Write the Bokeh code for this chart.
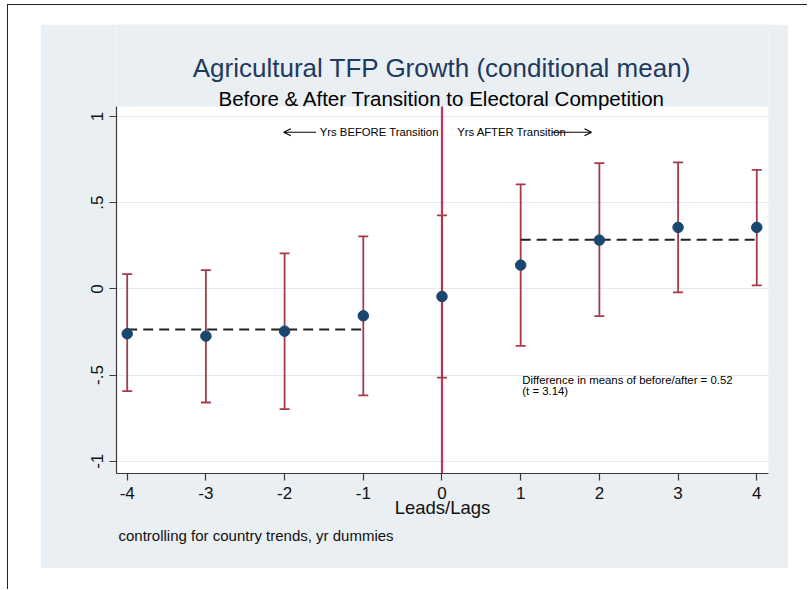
from bokeh.plotting import figure
from bokeh.models import Range1d, FixedTicker, Label, Arrow, OpenHead, BoxAnnotation, Title
from bokeh.layouts import column
from bokeh.embed import file_html
from bokeh.resources import INLINE

# ---- data ----
lags = [-4, -3, -2, -1, 0, 1, 2, 3, 4]
coef = [-0.260, -0.274, -0.245, -0.156, -0.044, 0.138, 0.283, 0.357, 0.357]
ci_hi = [0.086, 0.109, 0.206, 0.305, 0.427, 0.607, 0.730, 0.734, 0.690]
ci_lo = [-0.593, -0.659, -0.698, -0.618, -0.515, -0.330, -0.158, -0.020, 0.020]

before_x = [-4, -1]
before_mean = -0.235
after_x = [1, 4]
after_mean = 0.285

x_ticks = [-4, -3, -2, -1, 0, 1, 2, 3, 4]
x_tick_labels = ["-4", "-3", "-2", "-1", "0", "1", "2", "3", "4"]
y_ticks = [-1.0, -0.5, 0.0, 0.5, 1.0]
y_tick_labels = ["-1", "-.5", "0", ".5", "1"]

title_text = "Agricultural TFP Growth (conditional mean)"
subtitle_text = "Before & After Transition to Electoral Competition"
x_title = "Leads/Lags"
note_text = "controlling for country trends, yr dummies"
before_text = "Yrs BEFORE Transition"
after_text = "Yrs AFTER Transition"
diff_text = "Difference in means of before/after = 0.52"
t_text = "(t = 3.14)"

FONT = "Liberation Sans"
NAVY = "#1A476F"
BAR = "#A63A4A"
RED = "#D42E5B"
PANEL = "#E9EFF2"

# plot region (white area) and frame extents
X_LO, X_HI = -4.136, 4.149
Y_LO, Y_PLOT_TOP, Y_FRAME_TOP = -1.071, 1.058, 1.534

p = figure(width=748, height=544,
           x_range=Range1d(X_LO, X_HI), y_range=Range1d(Y_LO, Y_FRAME_TOP),
           output_backend="svg", toolbar_location=None, title=None,
           min_border_left=76, min_border_right=20,
           min_border_top=0, min_border_bottom=95)
p.margin = (19, 0, 0, 32)
p.border_fill_color = PANEL
p.background_fill_color = PANEL
p.outline_line_color = None

# white plot region
p.add_layout(BoxAnnotation(bottom=Y_LO, top=Y_PLOT_TOP, fill_color="white", fill_alpha=1.0,
                           line_color=None, level="image"))

# grid
p.xgrid.visible = False
p.ygrid.ticker = FixedTicker(ticks=y_ticks)
p.ygrid.grid_line_color = "#E4EAED"
p.ygrid.grid_line_width = 1

# axes
for ax in (p.xaxis[0], p.yaxis[0]):
    ax.axis_line_color = "#3A3A3A"
    ax.axis_line_width = 1.2
    ax.major_tick_line_color = "#3A3A3A"
    ax.major_tick_line_width = 1.2
    ax.major_tick_out = 7
    ax.major_tick_in = 0
    ax.minor_tick_line_color = None
    ax.major_label_text_font = FONT
    ax.major_label_text_font_size = "17px"
    ax.major_label_text_color = "#111111"
    ax.major_label_standoff = 6

p.xaxis.ticker = FixedTicker(ticks=x_ticks)
p.xaxis.major_label_overrides = dict(zip(x_ticks, x_tick_labels))
p.yaxis.ticker = FixedTicker(ticks=y_ticks)
p.yaxis.major_label_overrides = dict(zip(y_ticks, y_tick_labels))
p.yaxis.major_label_orientation = "vertical"
p.yaxis.bounds = (Y_LO, Y_PLOT_TOP)

p.xaxis.axis_label = x_title
p.xaxis.axis_label_text_font = FONT
p.xaxis.axis_label_text_font_style = "normal"
p.xaxis.axis_label_text_font_size = "18.5px"
p.xaxis.axis_label_text_color = "#111111"
p.xaxis.axis_label_standoff = -5

# note below the axis
p.add_layout(Title(text=note_text, align="left", offset=2, standoff=13, vertical_align="top",
                   text_font=FONT, text_font_size="15px", text_font_style="normal",
                   text_color="#111111"), "below")

# vertical line at transition (x = 0) across the plot region
p.segment(x0=[0], y0=[Y_LO], x1=[0], y1=[Y_PLOT_TOP], line_color=RED, line_width=2.2)

# error bars
p.segment(x0=lags, y0=ci_lo, x1=lags, y1=ci_hi, line_color=BAR, line_width=1.8)
p.scatter(x=lags, y=ci_hi, marker="dash", size=10, line_color=BAR, line_width=1.8)
p.scatter(x=lags, y=ci_lo, marker="dash", size=10, line_color=BAR, line_width=1.8)

# mean lines
p.line(x=before_x, y=[before_mean] * len(before_x), line_color="#222222",
       line_width=2, line_dash="10 6")
p.line(x=after_x, y=[after_mean] * len(after_x), line_color="#222222",
       line_width=2, line_dash="10 6")

# points
p.scatter(x=lags, y=coef, size=10.5, fill_color=NAVY, line_color=NAVY)

# arrows and annotations
p.add_layout(Arrow(end=OpenHead(size=7, line_width=1.2, line_color="black"),
                   x_start=-1.6, y_start=0.909, x_end=-2.01, y_end=0.909,
                   line_color="black", line_width=1.2))
p.add_layout(Arrow(end=OpenHead(size=7, line_width=1.2, line_color="black"),
                   x_start=1.4, y_start=0.909, x_end=1.9, y_end=0.909,
                   line_color="black", line_width=1.2))


def lab(x, y, text, size, color="black", align="left", baseline="middle"):
    p.add_layout(Label(x=x, y=y, text=text, text_font=FONT, text_font_size=size,
                       text_color=color, text_align=align, text_baseline=baseline))


lab(-1.553, 0.909, before_text, "11.3px")
lab(0.193, 0.909, after_text, "11.3px")
lab(1.02, -0.526, diff_text, "11.4px")
lab(1.02, -0.590, t_text, "11.4px")

lab(0.0, 1.281, title_text, "26px", color="#1E3A5F", align="center", baseline="alphabetic")
lab(0.0, 1.107, subtitle_text, "20.5px", color="black", align="center", baseline="alphabetic")

root = column(p, width=800, height=585, margin=(4, 0, 0, 7),
              styles={"border-top": "1px solid #222", "border-left": "1px solid #222"})

open("out.html", "w").write(file_html(root, INLINE))
